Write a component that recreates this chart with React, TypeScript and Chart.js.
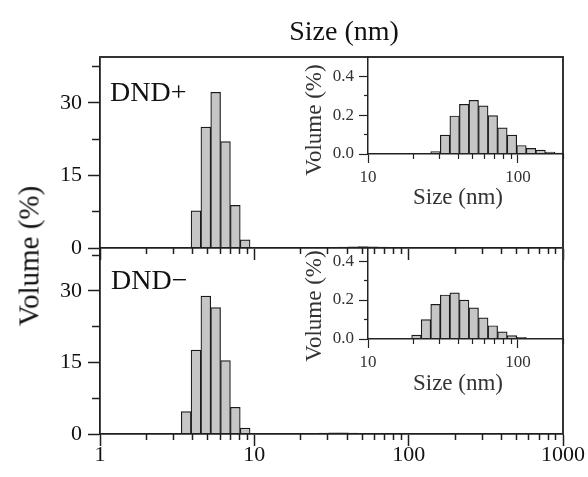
import React, { useEffect, useRef } from "react";
import { Chart, registerables } from "chart.js";

Chart.register(...registerables);

// ---- data (DLS volume distributions, bin centres in nm) ----
const smallSizes = [3.615, 4.187, 4.849, 5.615, 6.503, 7.531, 8.721];
const dndPlusSmall = [null, 7.7, 25.0, 32.2, 22.0, 8.8, 1.7];
const dndMinusSmall = [4.7, 17.6, 28.9, 26.5, 15.4, 5.6, 1.25];

const largeSizes = [21.04, 24.36, 28.21, 32.67, 37.84, 43.82, 50.75, 58.77, 68.06, 78.82, 91.28, 105.7, 122.4, 141.8, 164.2, 190.1];
const dndPlusLarge = [null, null, 0.012, 0.097, 0.196, 0.256, 0.277, 0.248, 0.198, 0.135, 0.097, 0.044, 0.029, 0.02, 0.01, 0.005];
const dndMinusLarge = [0.02, 0.1, 0.178, 0.226, 0.237, 0.2, 0.16, 0.109, 0.068, 0.037, 0.017, 0.009, null, null, null, null];

// ---- tick values ----
const mainXTicks = [1, 10, 100, 1000];
const mainXMinorTicks = [2, 3, 4, 5, 6, 7, 8, 9, 20, 30, 40, 50, 60, 70, 80, 90, 200, 300, 400, 500, 600, 700, 800, 900];
const mainYTicks = [0, 15, 30];
const mainYMinorTicks = [7.5, 22.5, 37.5];
const insetXTicks = [10, 100];
const insetXMinorTicks = [20, 30, 40, 50, 60, 70, 80, 90, 200];
const insetYTicks = [0, 0.2, 0.4];
const insetYMinorTicks = [0.1, 0.3];

const FONT = "'Liberation Serif', 'Times New Roman', Times, serif";
const W = 588;
const H = 477;
const BAR_FILL = "#c6c6c6";
const BAR_EDGE = "#1a1a1a";

type Area = { left: number; top: number; right: number; bottom: number };

const fixW = (w: number) => (s: any) => { s.width = w; };
const fixH = (h: number) => (s: any) => { s.height = h; };
const setTicks = (vals: number[]) => (s: any) => { s.ticks = vals.map((v) => ({ value: v })); };

const mainStyle = {
  ink: "#1f1f1f", labelColor: "#111", labelSize: 22, majorTick: 12, minorTick: 6, yMinorTick: 8,
  tickWidth: 1.5, axisWidth: 1.8, xPad: -4, yPad: 6, yBox: 100, xBox: 43, fmt: (v: number) => String(v),
};
const insetStyle = {
  ink: "#222", labelColor: "#333", labelSize: 17, majorTick: 9, minorTick: 5, yMinorTick: 4,
  tickWidth: 1.2, axisWidth: 1.5, xPad: 4, yPad: 5, yBox: 60, xBox: 45, fmt: (v: number) => v.toFixed(1),
};

interface Spec {
  area: Area;
  sizes: number[];
  values: (number | null)[];
  xMin: number; xMax: number; yMax: number;
  xTicks: number[]; xMinorTicks: number[];
  yTicks: number[]; yMinorTicks: number[];
  showXLabels: boolean;
  frameTop: boolean; frameRight: boolean;
  inset: boolean;
}

function buildConfig(p: Spec): any {
  const s = p.inset ? insetStyle : mainStyle;
  const font = { family: FONT, size: s.labelSize };
  const points = p.sizes.map((x, i) => ({ x, y: p.values[i] }));
  const xBox = p.showXLabels ? s.xBox : 0;
  const scales: any = {
    x: {
      type: "logarithmic", position: "bottom", weight: 2, min: p.xMin, max: p.xMax, offset: false,
      afterFit: fixH(xBox), afterBuildTicks: setTicks(p.xTicks),
      ticks: {
        display: p.showXLabels, autoSkip: false, maxRotation: 0, minRotation: 0,
        padding: s.xPad, color: s.labelColor, font, callback: (v: any) => String(v),
      },
      grid: { display: true, offset: false, drawOnChartArea: false, drawTicks: true, tickLength: s.majorTick, tickColor: s.ink, tickWidth: s.tickWidth },
      border: { display: true, color: s.ink, width: s.axisWidth, z: 1 },
    },
    xMinor: {
      type: "logarithmic", position: "bottom", weight: 1, min: p.xMin, max: p.xMax, offset: false,
      afterFit: fixH(0), afterBuildTicks: setTicks(p.xMinorTicks),
      ticks: { display: false },
      grid: { display: true, offset: false, drawOnChartArea: false, drawTicks: true, tickLength: s.minorTick, tickColor: s.ink, tickWidth: s.tickWidth },
      border: { display: false },
    },
    y: {
      type: "linear", position: "left", weight: 2, min: 0, max: p.yMax,
      afterFit: fixW(s.yBox), afterBuildTicks: setTicks(p.yTicks),
      ticks: { display: true, autoSkip: false, padding: s.yPad, color: s.labelColor, font, callback: (v: any) => s.fmt(Number(v)) },
      grid: { display: true, offset: false, drawOnChartArea: false, drawTicks: true, tickLength: s.majorTick, tickColor: s.ink, tickWidth: s.tickWidth },
      border: { display: true, color: s.ink, width: s.axisWidth, z: 1 },
    },
    yMinor: {
      type: "linear", position: "left", weight: 1, min: 0, max: p.yMax,
      afterFit: fixW(0), afterBuildTicks: setTicks(p.yMinorTicks),
      ticks: { display: false },
      grid: { display: true, offset: false, drawOnChartArea: false, drawTicks: true, tickLength: s.yMinorTick, tickColor: s.ink, tickWidth: s.tickWidth },
      border: { display: false },
    },
  };
  if (p.frameTop) {
    scales.xTop = {
      type: "logarithmic", position: "top", min: p.xMin, max: p.xMax, offset: false, afterFit: fixH(0),
      ticks: { display: false }, grid: { display: false, offset: false },
      border: { display: true, color: "#333", width: 2, z: 1 },
    };
  }
  if (p.frameRight) {
    scales.yRight = {
      type: "linear", position: "right", min: 0, max: p.yMax, afterFit: fixW(0),
      ticks: { display: false }, grid: { display: false },
      border: { display: true, color: "#333", width: 2, z: 1 },
    };
  }
  return {
    type: "bar",
    data: {
      datasets: [{
        data: points, xAxisID: "x", yAxisID: "y",
        backgroundColor: BAR_FILL, borderColor: BAR_EDGE, borderWidth: 1.2,
        barPercentage: 1, categoryPercentage: 1, borderSkipped: "start", clip: 0,
      }],
    },
    options: {
      responsive: false, animation: false, devicePixelRatio: 1, events: [],
      layout: {
        padding: {
          left: p.area.left - s.yBox,
          top: p.area.top,
          right: W - p.area.right,
          bottom: H - p.area.bottom - xBox,
        },
      },
      plugins: { legend: { display: false }, tooltip: { enabled: false }, title: { display: false } },
      scales,
    },
  };
}

function Txt(props: { x: number; y: number; size: number; rot?: number; anchor?: "center" | "left"; color?: string; children: React.ReactNode }) {
  const { x, y, size, rot = 0, anchor = "center", color = "#111", children } = props;
  const tx = anchor === "center" ? "-50%" : "0";
  return (
    <div style={{
      position: "absolute", left: x, top: y, transform: `translate(${tx}, -50%) rotate(${rot}deg)`,
      fontFamily: FONT, fontSize: size, lineHeight: 1, whiteSpace: "nowrap", color,
    }}>{children}</div>
  );
}

export default function App() {
  const c0 = useRef<HTMLCanvasElement>(null);
  const c1 = useRef<HTMLCanvasElement>(null);
  const c2 = useRef<HTMLCanvasElement>(null);
  const c3 = useRef<HTMLCanvasElement>(null);

  useEffect(() => {
    const specs: Spec[] = [
      {
        area: { left: 100, top: 57, right: 563, bottom: 248 },
        sizes: [...smallSizes, ...largeSizes], values: [...dndPlusSmall, ...dndPlusLarge],
        xMin: 1, xMax: 1000, yMax: 39.5, xTicks: mainXTicks, xMinorTicks: mainXMinorTicks,
        yTicks: mainYTicks, yMinorTicks: mainYMinorTicks, showXLabels: false,
        frameTop: true, frameRight: true, inset: false,
      },
      {
        area: { left: 100, top: 248, right: 563, bottom: 434 },
        sizes: [...smallSizes, ...largeSizes], values: [...dndMinusSmall, ...dndMinusLarge],
        xMin: 1, xMax: 1000, yMax: 39, xTicks: mainXTicks, xMinorTicks: mainXMinorTicks,
        yTicks: mainYTicks, yMinorTicks: mainYMinorTicks, showXLabels: true,
        frameTop: false, frameRight: true, inset: false,
      },
      {
        area: { left: 368, top: 57, right: 563, bottom: 154 },
        sizes: largeSizes, values: dndPlusLarge,
        xMin: 10, xMax: 200, yMax: 0.5, xTicks: insetXTicks, xMinorTicks: insetXMinorTicks,
        yTicks: insetYTicks, yMinorTicks: insetYMinorTicks, showXLabels: true,
        frameTop: false, frameRight: false, inset: true,
      },
      {
        area: { left: 368, top: 248, right: 563, bottom: 339 },
        sizes: largeSizes, values: dndMinusLarge,
        xMin: 10, xMax: 200, yMax: 0.467, xTicks: insetXTicks, xMinorTicks: insetXMinorTicks,
        yTicks: insetYTicks, yMinorTicks: insetYMinorTicks, showXLabels: true,
        frameTop: false, frameRight: false, inset: true,
      },
    ];
    const canvases = [c0.current, c1.current, c2.current, c3.current];
    const charts = specs.map((sp, i) => new Chart(canvases[i] as HTMLCanvasElement, buildConfig(sp)));
    return () => charts.forEach((c) => c.destroy());
  }, []);

  const canvasStyle: React.CSSProperties = { position: "absolute", left: 0, top: 0, width: W, height: H };

  return (
    <div style={{ position: "absolute", left: 0, top: 0, width: W, height: H, background: "#fff", overflow: "hidden" }}>
      <canvas ref={c0} width={W} height={H} style={canvasStyle} />
      <canvas ref={c1} width={W} height={H} style={canvasStyle} />
      <canvas ref={c2} width={W} height={H} style={canvasStyle} />
      <canvas ref={c3} width={W} height={H} style={canvasStyle} />

      <Txt x={344} y={31} size={28}>Size (nm)</Txt>
      <Txt x={29} y={256} size={29} rot={-90}>Volume (%)</Txt>
      <Txt x={110} y={92} size={28} anchor="left">DND+</Txt>
      <Txt x={111} y={280} size={28} anchor="left">DND−</Txt>

      <Txt x={458} y={196} size={23} color="#333">Size (nm)</Txt>
      <Txt x={313} y={120} size={23} rot={-90} color="#333">Volume (%)</Txt>
      <Txt x={458} y={382} size={23} color="#333">Size (nm)</Txt>
      <Txt x={313} y={306} size={23} rot={-90} color="#333">Volume (%)</Txt>
    </div>
  );
}
